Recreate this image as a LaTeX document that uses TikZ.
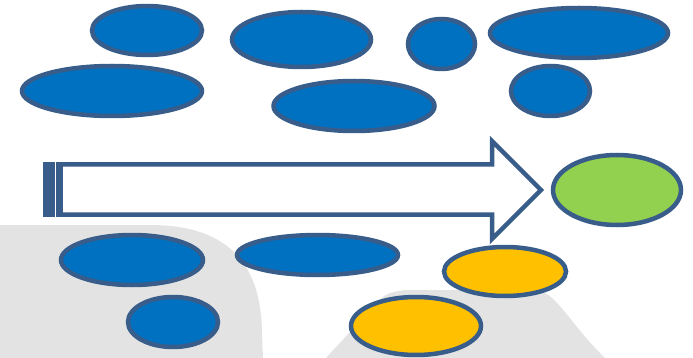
\documentclass[tikz,border=0pt]{standalone}
\usepackage{xcolor}
\usetikzlibrary{shapes.geometric}

\definecolor{edgeblue}{RGB}{56,93,138}
\definecolor{fillblue}{RGB}{0,112,192}
\definecolor{fillgreen}{RGB}{146,208,80}
\definecolor{fillorange}{RGB}{255,192,0}
\definecolor{bggray}{RGB}{227,227,227}

\begin{document}
\begin{tikzpicture}[x=1pt, y=-1pt,
  blob/.style={ellipse, draw=edgeblue, line width=4.5pt, inner sep=0pt, fill=fillblue},
  goal/.style={blob, fill=fillgreen},
  part/.style={blob, fill=fillorange}]
\useasboundingbox (0,0) rectangle (693,358);

% background shapes
\fill[bggray] (0,358) -- (0,225) -- (150,225) .. controls (232,225) and (262,268) .. (262,335) -- (263,358) -- cycle;
\fill[bggray] (326,358) -- (372,308) .. controls (386,293) .. (405,290) -- (535,290) .. controls (556,291) and (568,322) .. (605,358) -- cycle;

% upper ellipses
\node[blob, minimum width=110pt, minimum height=49pt] (top1) at (147,30.5) {};
\node[blob, minimum width=139pt, minimum height=55pt] (top2) at (301.5,39.5) {};
\node[blob, minimum width=67pt, minimum height=50pt] (top3) at (441.5,44) {};
\node[blob, minimum width=178pt, minimum height=50pt] (top4) at (579,33) {};
\node[blob, minimum width=180pt, minimum height=50pt] (mid1) at (112,91) {};
\node[blob, minimum width=161pt, minimum height=50pt] (mid2) at (354,106) {};
\node[blob, minimum width=79pt, minimum height=50pt] (mid3) at (550.5,91) {};

% arrow
\draw[draw=edgeblue, line width=4.5pt, fill=white] (63,164.5) -- (492,164.5) -- (492,141) -- (541,190) -- (492,239) -- (492,214.5) -- (63,214.5);
\fill[edgeblue] (43,162) rectangle (63,217);
\draw[white, line width=0.9pt] (55.5,162) -- (55.5,217);

% result
\node[goal, minimum width=128pt, minimum height=70pt] (result) at (617,190) {};

% lower ellipses
\node[blob, minimum width=142pt, minimum height=50pt] (low1) at (132,260) {};
\node[blob, minimum width=161pt, minimum height=40pt] (low2) at (317.5,255) {};
\node[blob, minimum width=90pt, minimum height=50pt] (low3) at (173,322) {};
\node[part, minimum width=122pt, minimum height=49pt] (part1) at (505,271.5) {};
\node[part, minimum width=130pt, minimum height=58pt] (part2) at (416,326) {};
\end{tikzpicture}
\end{document}
